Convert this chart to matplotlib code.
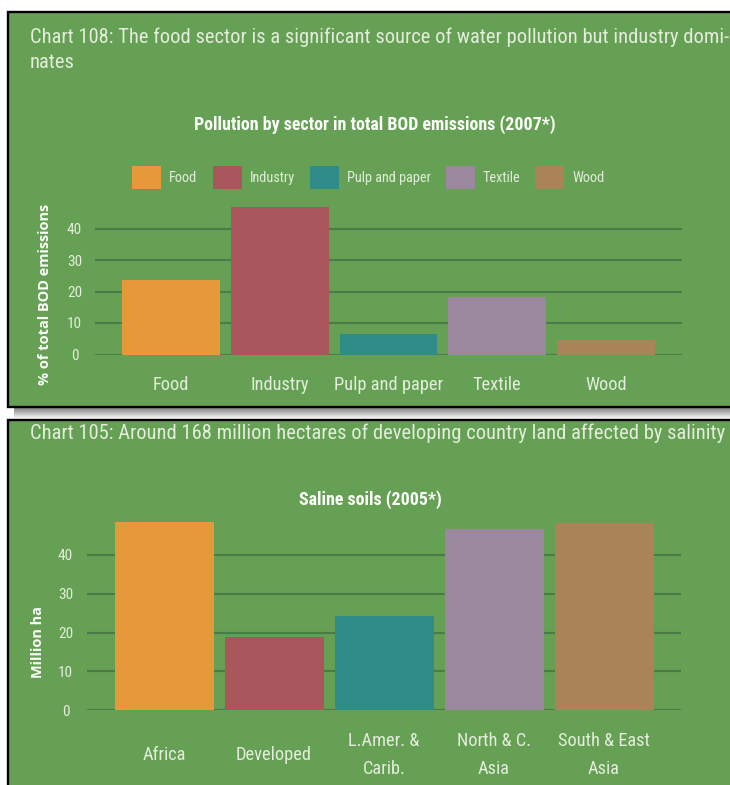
import numpy as np
import matplotlib
matplotlib.use("Agg")
import matplotlib.pyplot as plt
from matplotlib import font_manager as fm
from matplotlib.patches import Rectangle

# ---- data ----
sectors = ["Food", "Industry", "Pulp and paper", "Textile", "Wood"]
bod_share = [23.6, 46.8, 6.6, 18.3, 4.7]

regions = ["Africa", "Developed", "L.Amer. &\nCarib.", "North & C.\nAsia", "South & East\nAsia"]
saline_area = [48.4, 18.9, 24.3, 46.7, 48.3]

y_ticks = [0, 10, 20, 30, 40]

title_top = ["Chart 108: The food sector is a significant source of water pollution but industry domi-",
             "nates"]
subtitle_top = "Pollution by sector in total BOD emissions (2007*)"
ylabel_top = "% of total BOD emissions"

title_bottom = "Chart 105: Around 168 million hectares of developing country land affected by salinity"
subtitle_bottom = "Saline soils (2005*)"
ylabel_bottom = "Million ha"

# ---- style ----
BG = "#66a055"
GRID = "#4c7c46"
BAR_COLORS = ["#e6993a", "#aa565d", "#2f8c89", "#9b879e", "#aa8356"]
TXT = "#e2edda"
WHITE = "#fbfdf9"

names = {f.name for f in fm.fontManager.ttflist}


def pick(cands, default):
    for c in cands:
        if c in names:
            return c
    return default


NARROW = pick(["Roboto Condensed", "Open Sans Condensed", "Liberation Sans Narrow",
               "Ubuntu Condensed"], "Roboto")
BOLD = pick(["Open Sans", "Lato", "Roboto"], "DejaVu Sans")

W, H = 730, 785
fig = plt.figure(figsize=(W / 100, H / 100), dpi=100)
fig.patch.set_facecolor("white")
renderer = fig.canvas.get_renderer()


def fx(x):
    return x / W


def fy(y):
    return 1 - y / H


def fit(text, target_px, family, weight="normal", base=10.0):
    t = fig.text(0, 0, text, fontsize=base, family=family, weight=weight)
    w = t.get_window_extent(renderer).width
    t.remove()
    return base * target_px / w


# panels
fig.add_artist(Rectangle((fx(8), fy(407)), fx(750), (407 - 12) / H, transform=fig.transFigure,
                         fc=BG, ec="black", lw=1.7, zorder=-2, clip_on=False))
fig.add_artist(Rectangle((fx(8), -0.05), fx(750), (785 - 420) / H + 0.05, transform=fig.transFigure,
                         fc=BG, ec="black", lw=1.7, zorder=-2, clip_on=False))

# drop shadow under the first panel
sh = fig.add_axes([fx(14), fy(419), fx(716), 11 / H], zorder=-3)
grad = np.linspace(0.52, 1.0, 32)[:, None, None] * np.ones((1, 1, 3))
sh.imshow(grad, aspect="auto", extent=(0, 1, 0, 1), interpolation="bilinear")
sh.axis("off")

# ---- titles ----
ts = fit(title_top[0], 692, NARROW)
fig.text(fx(30), fy(43), title_top[0], fontsize=ts, family=NARROW, color=TXT, va="baseline")
fig.text(fx(30), fy(68), title_top[1], fontsize=ts, family=NARROW, color=TXT, va="baseline")
ts2 = fit(title_bottom, 689, NARROW)
fig.text(fx(30), fy(439), title_bottom, fontsize=ts2, family=NARROW, color=TXT, va="baseline")

ss = fit(subtitle_top, 363, NARROW, "bold")
fig.text(fx(375), fy(125), subtitle_top, fontsize=ss, family=NARROW, weight="bold",
         color=WHITE, ha="center", va="center")
fig.text(fx(370), fy(500), subtitle_bottom, fontsize=ss, family=NARROW, weight="bold",
         color=WHITE, ha="center", va="center")

tick_fs = fit("Pulp and paper", 109, NARROW)
ytick_fs = fit("40", 15, NARROW)


def setup(ax, x0, x1, y_zero, px_per_unit, ytick_pad_px, xtick_pad_px):
    ymax = 50
    top = y_zero - ymax * px_per_unit
    ax.set_position([fx(x0), fy(y_zero), fx(x1 - x0), (y_zero - top) / H])
    ax.set_facecolor("none")
    ax.set_xlim(-0.70, 4.70)
    ax.set_ylim(0, ymax)
    for s in ax.spines.values():
        s.set_visible(False)
    ax.set_yticks(y_ticks)
    ax.yaxis.grid(True, color=GRID, lw=1.6)
    ax.set_axisbelow(True)
    ax.tick_params(axis="both", length=0)
    ax.tick_params(axis="y", pad=ytick_pad_px * 0.72, labelsize=ytick_fs, labelcolor=TXT)
    ax.tick_params(axis="x", pad=xtick_pad_px * 0.72, labelsize=tick_fs, labelcolor=TXT)
    for lab in ax.get_yticklabels():
        lab.set_ha("center")
        lab.set_family(NARROW)
    return top


# ---- chart 1: BOD share by sector ----
ax1 = fig.add_axes([0.1, 0.5, 0.8, 0.3])
top1 = setup(ax1, 95, 682, 354.5, 3.15, 20.5, 30.5)
x1 = np.arange(len(sectors))
bars1 = ax1.bar(x1, bod_share, width=0.9, color=BAR_COLORS, zorder=3)
ax1.set_xticks(x1)
ax1.set_xticklabels(sectors, family=NARROW, va="center")
ax1.set_ylabel(ylabel_top, family=BOLD, weight="bold", color=WHITE,
               fontsize=fit(ylabel_top, 182, BOLD, "bold"))
ax1.yaxis.label.set_va("center")
ax1.yaxis.set_label_coords((45 - 95) / 587, (354.5 - 294) / (354.5 - top1))

leg_fs = fit("Pulp and paper", 84, NARROW)
fpx = leg_fs / 0.72
fig.legend(bars1.patches, sectors, loc="center", bbox_to_anchor=(fx(368.5), fy(177.5)),
           ncol=5, frameon=False, prop={"family": NARROW, "size": leg_fs},
           handlelength=29 / fpx, handleheight=30 / fpx, handletextpad=8 / fpx,
           columnspacing=15 / fpx, borderpad=0, labelcolor=TXT)

# ---- chart 2: saline soils by region ----
ax2 = fig.add_axes([0.1, 0.1, 0.8, 0.3])
top2 = setup(ax2, 87, 681, 710, 3.875, 21.5, 45)
x2 = np.arange(len(regions))
ax2.bar(x2, saline_area, width=0.9, color=BAR_COLORS, zorder=3)
ax2.set_xticks(x2)
ax2.set_xticklabels(regions, family=NARROW, va="center", linespacing=1.75)
ax2.set_ylabel(ylabel_bottom, family=BOLD, weight="bold", color=WHITE,
               fontsize=fit(ylabel_top, 182, BOLD, "bold"))
ax2.yaxis.label.set_va("center")
ax2.yaxis.set_label_coords((37.5 - 87) / 594, (710 - 642) / (710 - top2))

fig.savefig("out.png", dpi=100, facecolor="white")
